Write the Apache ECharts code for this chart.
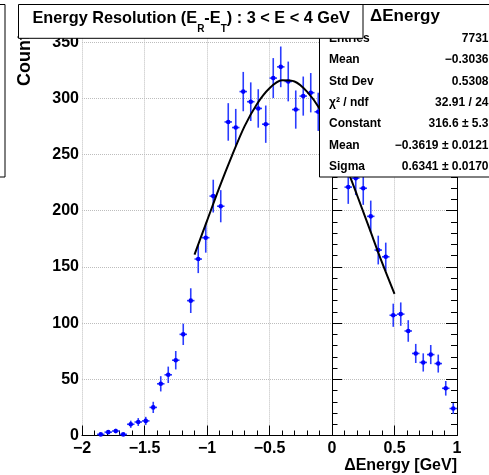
<!DOCTYPE html>
<html>
<head>
<meta charset="utf-8">
<script src="https://cdn.jsdelivr.net/npm/echarts@6/dist/echarts.min.js"></script>
<style>
  html, body { margin: 0; padding: 0; background: #fff; }
  #chart { width: 489px; height: 475px; }
</style>
</head>
<body>
<div id="chart"></div>
<script>
// histogram of ΔEnergy, bins of 0.06 GeV from -2 to 1
const binCenters = [
  -1.97, -1.91, -1.85, -1.79, -1.73, -1.67, -1.61, -1.55, -1.49, -1.43,
  -1.37, -1.31, -1.25, -1.19, -1.13, -1.07, -1.01, -0.95, -0.89, -0.83,
  -0.77, -0.71, -0.65, -0.59, -0.53, -0.47, -0.41, -0.35, -0.29, -0.23,
  -0.17, -0.11, -0.05, 0.01, 0.07, 0.13, 0.19, 0.25, 0.31, 0.37,
  0.43, 0.49, 0.55, 0.61, 0.67, 0.73, 0.79, 0.85, 0.91, 0.97
]
const counts = [
  0, 0, 1, 3, 4, 1, 10, 12, 13, 25,
  46, 54, 67, 90, 120, 157, 176, 213, 204, 279,
  274, 306, 297, 291, 277, 318, 328, 315, 290, 302,
  305, 288, 280, 264, 248, 221, 229, 220, 195, 165,
  159, 107, 108, 93, 73, 65, 72, 64, 42, 24
]
const errors = [
  0, 0, 1.0, 1.7, 2.0, 1.0, 3.2, 3.5, 3.6, 5.0,
  6.8, 7.3, 8.2, 9.5, 11.0, 12.5, 13.3, 14.6, 14.3, 16.7,
  16.6, 17.5, 17.2, 17.1, 16.6, 17.8, 18.1, 17.7, 17.0, 17.4,
  17.5, 17.0, 16.7, 16.2, 15.7, 14.9, 15.1, 14.8, 14.0, 12.8,
  12.6, 10.3, 10.4, 9.6, 8.5, 8.1, 8.5, 8.0, 6.5, 4.9
]
const halfBin = 0.03

// gaus fit curve as drawn, -1.1 .. 0.5
const fitX = [-1.1, -1.0, -0.9, -0.8, -0.7, -0.6, -0.5, -0.4, -0.3, -0.2, -0.1, 0.0, 0.1, 0.2, 0.3, 0.4, 0.5]
const fitY = [161, 191, 221, 249, 275, 295, 309, 316, 315, 306, 291, 269, 243, 214, 184, 154, 126]

const statLabels = ['Entries', 'Mean', 'Std Dev', 'χ² / ndf', 'Constant', 'Mean', 'Sigma']
const statValues = ['7731', '−0.3036', '0.5308', '32.91 / 24', '316.6 ± 5.3', '−0.3619 ± 0.0121', '0.6341 ± 0.0170']

const FONT = '"Liberation Sans", Arial, sans-serif'
const minus = v => String(v).replace('-', '−')

let myChart = echarts.init(document.getElementById('chart'))

let statTexts = []
statLabels.forEach((lab, i) => {
  let y = 38.5 + i * 21.4
  statTexts.push({
    type: 'text', z: 50, x: 329, y: y,
    style: { text: lab, font: 'bold 12px ' + FONT, fill: '#000', align: 'left', verticalAlign: 'middle' }
  })
  statTexts.push({
    type: 'text', z: 50, x: 488.5, y: y,
    style: { text: statValues[i], font: 'bold 12px ' + FONT, fill: '#000', align: 'right', verticalAlign: 'middle' }
  })
})

myChart.setOption({
  animation: false,
  grid: { left: 82, right: 32, top: 26.4, bottom: 39.5 },
  xAxis: {
    type: 'value', min: -2, max: 1, interval: 0.5,
    axisLine: { lineStyle: { color: '#000', width: 1 } },
    axisTick: { inside: true, length: 10, lineStyle: { color: '#000' } },
    minorTick: { show: true, splitNumber: 5, length: 5, lineStyle: { color: '#000' } },
    splitLine: { show: true, lineStyle: { color: '#bdbdbd', type: 'dotted' } },
    axisLabel: {
      margin: 5, color: '#000', fontSize: 16, fontWeight: 'bold', fontFamily: FONT,
      formatter: v => minus(v)
    },
    name: 'ΔEnergy [GeV]', nameLocation: 'end', nameGap: 0,
    nameTextStyle: {
      color: '#000', fontSize: 16, fontWeight: 'bold', fontFamily: FONT,
      align: 'right', verticalAlign: 'top', padding: [22, 0, 0, 0]
    }
  },
  yAxis: [{
    type: 'value', min: 0, max: 364, interval: 50,
    axisLine: { show: true, lineStyle: { color: '#000', width: 1 } },
    axisTick: { show: true, inside: true, length: 10, lineStyle: { color: '#000' } },
    minorTick: { show: true, splitNumber: 5, length: 5.5, lineStyle: { color: '#000' } },
    splitLine: { show: true, lineStyle: { color: '#bdbdbd', type: 'dotted' } },
    axisLabel: {
      margin: 3, color: '#000', fontSize: 16, fontWeight: 'bold', fontFamily: FONT,
      showMaxLabel: false
    }
  }, {
    type: 'value', min: 0, max: 364, interval: 50, position: 'right',
    axisLine: { show: true, lineStyle: { color: '#000', width: 1 } },
    axisTick: { show: true, inside: true, length: 11, lineStyle: { color: '#000' } },
    minorTick: { show: true, splitNumber: 5, length: 6, lineStyle: { color: '#000' } },
    splitLine: { show: false },
    axisLabel: { show: false }
  }],
  series: [{
    type: 'custom',
    z: 4,
    data: binCenters.map((x, i) => [x, counts[i], errors[i]]),
    renderItem: function (params, api) {
      let x = api.value(0)
      let y = api.value(1)
      let e = api.value(2)
      if (!y) return
      let c = api.coord([x, y])
      let top = api.coord([x, y + e])
      let bot = api.coord([x, y - e])
      let l = api.coord([x - halfBin, y])
      let r = api.coord([x + halfBin, y])
      return {
        type: 'group',
        children: [
          { type: 'line', shape: { x1: c[0], y1: top[1], x2: c[0], y2: bot[1] }, style: { stroke: '#2a3cff', lineWidth: 1.6 } },
          { type: 'line', shape: { x1: l[0], y1: c[1], x2: r[0], y2: c[1] }, style: { stroke: '#2a3cff', lineWidth: 1.6 } },
          { type: 'circle', shape: { cx: c[0], cy: c[1], r: 2.3 }, style: { fill: '#0000ff' } }
        ]
      }
    }
  }, {
    type: 'line',
    z: 5,
    data: fitX.map((x, i) => [x, fitY[i]]),
    smooth: 0.3,
    showSymbol: false,
    lineStyle: { color: '#000', width: 2 }
  }],
  graphic: [
    // y title, partly under the title box
    {
      type: 'text', z: 10, x: 25.5, y: 24, rotation: Math.PI / 2,
      style: { text: 'Counts', font: 'bold 18px ' + FONT, fill: '#000', align: 'right', verticalAlign: 'middle' }
    },
    // edge of a neighbouring box on the left
    {
      type: 'rect', z: 20, shape: { x: -10, y: 4.5, width: 15, height: 172.5 },
      style: { fill: '#fff', stroke: '#000', lineWidth: 1 }
    },
    // stats box
    {
      type: 'rect', z: 40, shape: { x: 319.5, y: 4.5, width: 200, height: 172.5 },
      style: { fill: '#fff', stroke: '#000', lineWidth: 1 }
    },
    {
      type: 'text', z: 50, x: 370, y: 16,
      style: { text: 'ΔEnergy', font: 'bold 17px ' + FONT, fill: '#000', align: 'left', verticalAlign: 'middle' }
    },
    ...statTexts,
    // title box
    {
      type: 'rect', z: 60, shape: { x: 18.5, y: 4.5, width: 344.5, height: 33.8 },
      style: { fill: '#fff', stroke: '#000', lineWidth: 1 }
    },
    {
      type: 'text', z: 70, x: 32.5, y: 11,
      style: {
        text: '{a|Energy Resolution (E}{s|R}{a|-E}{s|T}{a|) : 3 < E < 4 GeV}',
        align: 'left', verticalAlign: 'top',
        rich: {
          a: { fontSize: 16.3, fontWeight: 'bold', fontFamily: FONT, fill: '#000', lineHeight: 16, verticalAlign: 'top' },
          s: { fontSize: 10, fontWeight: 'bold', fontFamily: FONT, fill: '#000', lineHeight: 10, verticalAlign: 'top', padding: [13, 0, 0, 0] }
        }
      }
    }
  ]
})
</script>
</body>
</html>
